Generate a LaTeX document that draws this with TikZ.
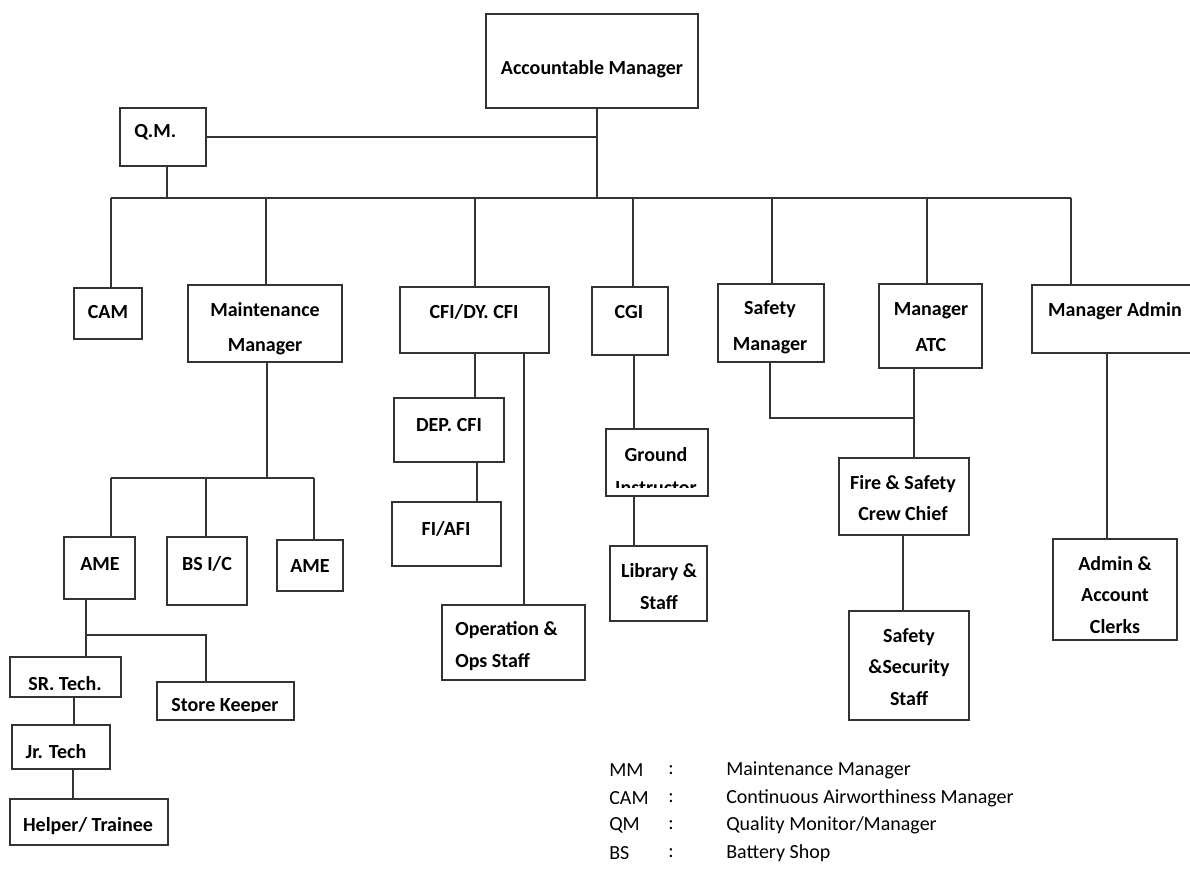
\documentclass[tikz,border=0pt]{standalone}
\usepackage{fontspec}
\setmainfont{Carlito}
\usetikzlibrary{fit}
\tikzset{
 obox/.style={draw=black!80, line width=1pt, inner sep=0pt, fit={#1}},
 ln/.style={draw=black!80, line width=0.9pt},
 txt/.style={font=\fontsize{15}{#1}\selectfont\bfseries, align=center, inner sep=0pt},
 txt/.default=24,
 leg/.style={font=\fontsize{15}{18}\selectfont, inner sep=0pt, anchor=west},
}
\begin{document}
\begin{tikzpicture}[x=0.75pt,y=-0.75pt]
\useasboundingbox (0,0) rectangle (1190,875);
% boxes
\node[obox={(486,14) (698,108)}] (am) {};
\node[obox={(120,108) (206,166)}] (qm) {};
\node[obox={(74,288) (142,339)}] (cam) {};
\node[obox={(188,285) (342,362)}] (mm) {};
\node[obox={(400,287) (549,353)}] (cfi) {};
\node[obox={(592,287) (668,355)}] (cgi) {};
\node[obox={(718,284) (824,362)}] (sm) {};
\node[obox={(879,284) (982,368)}] (atc) {};
\node[obox={(1032,285) (1192,353)}] (adm) {};
\node[obox={(64,537) (135,599)}] (ame1) {};
\node[obox={(167,537) (247,605)}] (bs) {};
\node[obox={(277,540) (343,591)}] (ame2) {};
\node[obox={(394,398) (504,462)}] (dep) {};
\node[obox={(392,502) (501,566)}] (fi) {};
\node[obox={(442,605) (585,680)}] (ops) {};
\node[obox={(606,429) (708,496)}] (gi) {};
\node[obox={(610,546) (707,621)}] (lib) {};
\node[obox={(839,458) (969,535)}] (fire) {};
\node[obox={(849,611) (969,720)}] (ss) {};
\node[obox={(1053,539) (1177,640)}] (clk) {};
\node[obox={(10,657) (121,697)}] (sr) {};
\node[obox={(157,682) (294,720)}] (sk) {};
\node[obox={(12,725) (110,769)}] (jr) {};
\node[obox={(10,799) (168,845)}] (hp) {};
% texts
\node[txt] (amT) at (592,69) {Accountable Manager};
\node[txt, anchor=west] (qmT) at (134,132) {Q.M.};
\node[txt] (camT) at (108,312) {CAM};
\begin{scope}\clip (188,285) rectangle (342,354);
\node[txt=26.25] (mmT) at (265,329) {Maintenance\\Manager};
\end{scope}
\node[txt] (cfiT) at (474,312) {CFI/DY. CFI};
\node[txt] (cgiT) at (629,312) {CGI};
\node[txt=27] (smT) at (770,327) {Safety\\Manager};
\node[txt=27] (atcT) at (931,327) {Manager\\ATC};
\node[txt] (admT) at (1115,311) {Manager Admin};
\node[txt] (depT) at (449,425) {DEP. CFI};
\node[txt] (fiT) at (446,529) {FI/AFI};
\node[txt=24, align=left, anchor=west] (opsT) at (455,646) {Operation \&\\Ops Staff};
\begin{scope}\clip (606,429) rectangle (708,487);
\node[txt=24.75] (giT) at (656,471) {Ground\\Instructor};
\end{scope}
\node[txt=24] (libT) at (659,587) {Library \&\\Staff};
\node[txt=23.25] (fireT) at (903,498.5) {Fire \& Safety\\Crew Chief};
\node[txt=23.6] (ssT) at (909,667) {Safety\\\&Security\\Staff};
\node[txt=23.6] (clkT) at (1115,595) {Admin \&\\Account\\Clerks};
\node[txt] (ame1T) at (100,564) {AME};
\node[txt] (bsT) at (207,564) {BS I/C};
\node[txt] (ame2T) at (310,566) {AME};
\node[txt] (srT) at (65,684) {SR. Tech.};
\node[txt] (jrT) at (56,752) {Jr. Tech};
\node[txt] (hpT) at (88,826) {Helper/ Trainee};
\begin{scope}\clip (157,682) rectangle (294,711);
\node[txt] (skT) at (225,707) {Store Keeper};
\end{scope}
% junctions
\coordinate (b1) at (111,198);
\coordinate (bQM) at (167,198);
\coordinate (b2) at (266,198);
\coordinate (b3) at (475,198);
\coordinate (bAM) at (597,198);
\coordinate (b4) at (633,198);
\coordinate (b5) at (772,198);
\coordinate (b6) at (927,198);
\coordinate (b7) at (1071,198);
\coordinate (m0) at (267,478);
\coordinate (m1) at (111,478);
\coordinate (m2) at (206,478);
\coordinate (m3) at (314,478);
\coordinate (a0) at (86,635);
\coordinate (a1) at (206,635);
\coordinate (c1) at (74,697);
\coordinate (c2) at (73,769);
\coordinate (d0) at (475,353);
\coordinate (d1) at (477,462);
\coordinate (d2) at (524,353);
\coordinate (g1) at (634,355);
\coordinate (g2) at (634,496);
\coordinate (s0) at (770,418);
\coordinate (s1) at (914,418);
\coordinate (f1) at (903,535);
\coordinate (e1) at (1107,353);
% connectors
\draw[ln] (qm.east) -- (qm.east -| bAM);
\draw[ln] (am.south -| bAM) -- (bAM);
\draw[ln] (qm.south -| bQM) -- (bQM);
\draw[ln] (b1) -- (b7);
\draw[ln] (b1) -- (b1 |- cam.north);
\draw[ln] (b2) -- (b2 |- mm.north);
\draw[ln] (b3) -- (b3 |- cfi.north);
\draw[ln] (b4) -- (b4 |- cgi.north);
\draw[ln] (b5) -- (b5 |- sm.north);
\draw[ln] (b6) -- (b6 |- atc.north);
\draw[ln] (b7) -- (b7 |- adm.north);
\draw[ln] (mm.south -| m0) -- (m0);
\draw[ln] (m1) -- (m3);
\draw[ln] (m1) -- (m1 |- ame1.north);
\draw[ln] (m2) -- (m2 |- bs.north);
\draw[ln] (m3) -- (m3 |- ame2.north);
\draw[ln] (ame1.south -| a0) -- (a0) -- (a1) -- (a1 |- sk.north);
\draw[ln] (a0) -- (a0 |- sr.north);
\draw[ln] (c1) -- (c1 |- jr.north);
\draw[ln] (c2) -- (c2 |- hp.north);
\draw[ln] (d0) -- (d0 |- dep.north);
\draw[ln] (d1) -- (d1 |- fi.north);
\draw[ln] (d2) -- (d2 |- ops.north);
\draw[ln] (g1) -- (g1 |- gi.north);
\draw[ln] (g2) -- (g2 |- lib.north);
\draw[ln] (sm.south -| s0) -- (s0) -- (s1);
\draw[ln] (atc.south -| s1) -- (s1) -- (s1 |- fire.north);
\draw[ln] (f1) -- (f1 |- ss.north);
\draw[ln] (e1) -- (e1 |- clk.north);
% legend
\node[leg] (lA1) at (609,770) {MM};
\node[leg] (lB1) at (668,770) {:};
\node[leg] (lC1) at (726,770) {Maintenance Manager};
\node[leg] (lA2) at (609,798) {CAM};
\node[leg] (lB2) at (668,798) {:};
\node[leg] (lC2) at (726,798) {Continuous Airworthiness Manager};
\node[leg] (lA3) at (609,825) {QM};
\node[leg] (lB3) at (668,825) {:};
\node[leg] (lC3) at (726,825) {Quality Monitor/Manager};
\begin{scope}\clip (600,835) rectangle (1100,864);
\node[leg] (lA4) at (609,853) {BS};
\node[leg] (lB4) at (668,853) {:};
\node[leg] (lC4) at (726,853) {Battery Shop};
\end{scope}
\end{tikzpicture}
\end{document}
